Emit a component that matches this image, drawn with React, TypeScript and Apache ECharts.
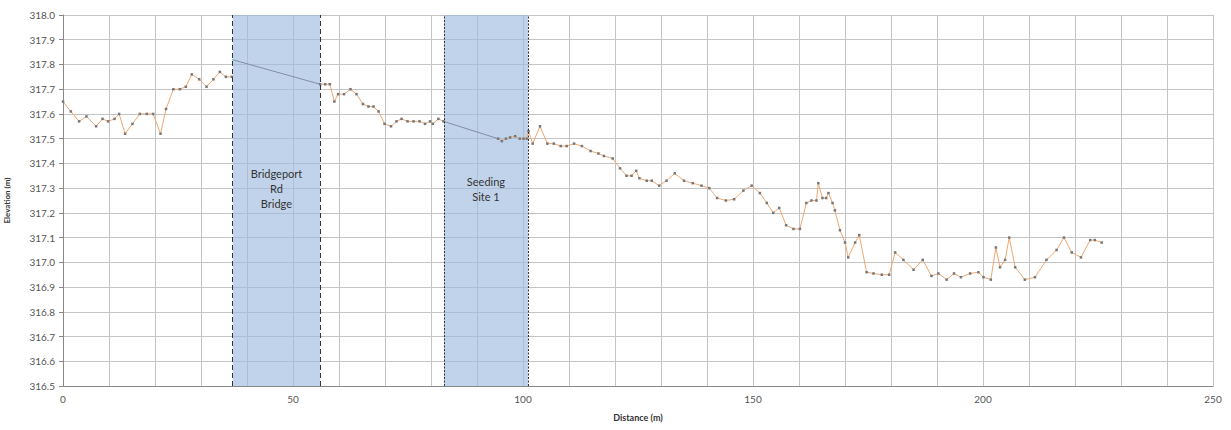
import React, { useEffect, useRef } from "react";
import * as echarts from "echarts";

const distA = [0, 1.7, 3.5, 5.1, 7.2, 8.6, 9.8, 11.2, 12.2, 13.5, 15.1, 16.7, 18.2, 19.6, 21.2, 22.4, 24.0, 25.4, 26.7, 28.0, 29.6, 31.2, 32.7, 34.1, 35.4, 36.7];
const elevA = [317.65, 317.61, 317.57, 317.59, 317.55, 317.58, 317.57, 317.58, 317.6, 317.52, 317.56, 317.6, 317.6, 317.6, 317.52, 317.62, 317.7, 317.7, 317.71, 317.76, 317.74, 317.71, 317.74, 317.77, 317.75, 317.75];

const distB = [55.9, 57.0, 58.0, 59.0, 59.8, 61.1, 62.5, 63.8, 65.2, 66.4, 67.5, 68.6, 69.9, 71.3, 72.5, 73.6, 74.9, 76.2, 77.5, 78.7, 79.8, 80.4, 81.6, 82.7];
const elevB = [317.72, 317.72, 317.72, 317.65, 317.68, 317.68, 317.7, 317.68, 317.64, 317.63, 317.63, 317.61, 317.56, 317.55, 317.57, 317.58, 317.57, 317.57, 317.57, 317.56, 317.57, 317.56, 317.58, 317.57];

const distC = [94.6, 95.4, 96.3, 97.2, 98.3, 99.3, 100.1, 100.8, 101.2, 102.1, 103.7, 105.3, 106.7, 108.2, 109.5, 111.1, 112.8, 114.7, 116.4, 117.6, 119.5, 121.1, 122.5, 123.6, 124.6, 125.3, 126.9, 128.0, 129.6, 131.2, 133.0, 135.0, 136.9, 138.8, 140.5, 142.2, 144.1, 145.9, 147.9, 149.7, 151.5, 153.0, 154.4, 155.7, 157.2, 158.8, 160.2, 161.6, 162.7, 163.8, 164.2, 165.1, 165.9, 166.4, 167.3, 167.8, 168.9, 170.0, 170.7, 172.2, 173.1, 174.7, 176.2, 178.0, 179.6, 180.9, 182.7, 184.9, 186.9, 188.8, 190.3, 192.1, 193.7, 195.2, 197.2, 199.0, 200.1, 201.7, 202.8, 203.7, 204.8, 205.7, 207.0, 209.1, 211.3, 213.8, 216.0, 217.6, 219.3, 221.3, 223.3, 224.3, 225.8];
const elevC = [317.5, 317.49, 317.5, 317.505, 317.51, 317.5, 317.5, 317.5, 317.53, 317.48, 317.55, 317.48, 317.48, 317.47, 317.47, 317.48, 317.47, 317.45, 317.44, 317.43, 317.42, 317.38, 317.35, 317.35, 317.37, 317.34, 317.33, 317.33, 317.31, 317.33, 317.36, 317.33, 317.32, 317.31, 317.3, 317.26, 317.25, 317.255, 317.29, 317.31, 317.28, 317.24, 317.2, 317.22, 317.15, 317.135, 317.135, 317.24, 317.25, 317.25, 317.32, 317.26, 317.26, 317.28, 317.24, 317.21, 317.13, 317.08, 317.02, 317.08, 317.11, 316.96, 316.955, 316.95, 316.95, 317.04, 317.01, 316.97, 317.01, 316.945, 316.955, 316.93, 316.955, 316.94, 316.955, 316.96, 316.94, 316.93, 317.06, 316.98, 317.01, 317.1, 316.98, 316.93, 316.94, 317.01, 317.05, 317.1, 317.04, 317.02, 317.09, 317.09, 317.08];

const bridgeDist = [36.7, 55.9];
const bridgeElev = [317.82, 317.72];
const seedDist = [82.7, 94.6];
const seedElev = [317.57, 317.5];

const bands = [
  { name: "Bridgeport\nRd\nBridge", from: 36.9, to: 55.9, border: "dashed" },
  { name: "Seeding\nSite 1", from: 82.8, to: 101.1, border: "dotted" },
];

const xTicks = ["0", "50", "100", "150", "200", "250"];

const zip = (xs: number[], ys: number[]) => xs.map((x, i) => [x, ys[i]]);

export default function App() {
  const ref = useRef<HTMLDivElement>(null);
  useEffect(() => {
    const chart = echarts.init(ref.current!, null, { renderer: "svg" });
    const mainData: any[] = [...zip(distA, elevA), [46, null], ...zip(distB, elevB), [88, null], ...zip(distC, elevC)];
    const font = "Lato, 'Open Sans', sans-serif";
    chart.setOption({
      animation: false,
      textStyle: { fontFamily: font },
      grid: { left: 63, right: 18, top: 15, bottom: 44, containLabel: false, outerBoundsMode: "none" },
      xAxis: {
        type: "value",
        min: 0,
        max: 250,
        interval: 10,
        name: "Distance (m)",
        nameLocation: "middle",
        nameGap: 27,
        nameTextStyle: { fontSize: 9, fontWeight: "bold", color: "#333" },
        axisLine: { show: true, lineStyle: { color: "#888" } },
        axisTick: { show: false },
        axisLabel: {
          fontSize: 10,
          color: "#555",
          margin: 8,
          formatter: (v: number) => (xTicks.includes(String(v)) ? String(v) : ""),
        },
        splitLine: { show: true, lineStyle: { color: "#c4c4c4", width: 1 } },
      },
      yAxis: {
        type: "value",
        min: 316.5,
        max: 318.0,
        interval: 0.1,
        name: "Elevation (m)",
        nameLocation: "middle",
        nameGap: 52,
        nameTextStyle: { fontSize: 8, fontWeight: "bold", color: "#333" },
        axisLine: { show: true, lineStyle: { color: "#888" } },
        axisTick: { show: true, length: 4, lineStyle: { color: "#888" } },
        axisLabel: { fontSize: 10, color: "#555", margin: 8, formatter: (v: number) => v.toFixed(1) },
        splitLine: { show: true, lineStyle: { color: "#c4c4c4", width: 1 } },
      },
      series: [
        {
          type: "line",
          name: "bands",
          data: [],
          markArea: {
            silent: true,
            itemStyle: { color: "rgba(160,188,224,0.65)" },
            label: { show: true, position: "inside", offset: [0, -12], color: "#333", fontSize: 11, lineHeight: 15, fontFamily: font },
            data: bands.map((b) => [{ xAxis: b.from, name: b.name }, { xAxis: b.to }]),
          },
          markLine: {
            silent: true,
            symbol: "none",
            label: { show: false },
            data: bands.flatMap((b) => [
              { xAxis: b.from, lineStyle: { color: "#333", type: b.border === "dashed" ? [5, 3] : [2, 1.5], width: 1 } },
              { xAxis: b.to, lineStyle: { color: "#333", type: b.border === "dashed" ? [5, 3] : [2, 1.5], width: 1 } },
            ]),
          },
        },
        {
          type: "line",
          data: zip(bridgeDist, bridgeElev),
          symbol: "none",
          lineStyle: { color: "#7f8ea3", width: 1 },
        },
        {
          type: "line",
          data: zip(seedDist, seedElev),
          symbol: "none",
          lineStyle: { color: "#7f8ea3", width: 1 },
        },
        {
          type: "line",
          data: mainData,
          connectNulls: false,
          symbol: "rect",
          symbolSize: 2.5,
          itemStyle: { color: "#777" },
          lineStyle: { color: "#eea772", width: 1 },
        },
      ],
    });
    return () => chart.dispose();
  }, []);
  return <div ref={ref} style={{ position: "absolute", left: 0, top: 0, width: 1231, height: 430 }} />;
}
